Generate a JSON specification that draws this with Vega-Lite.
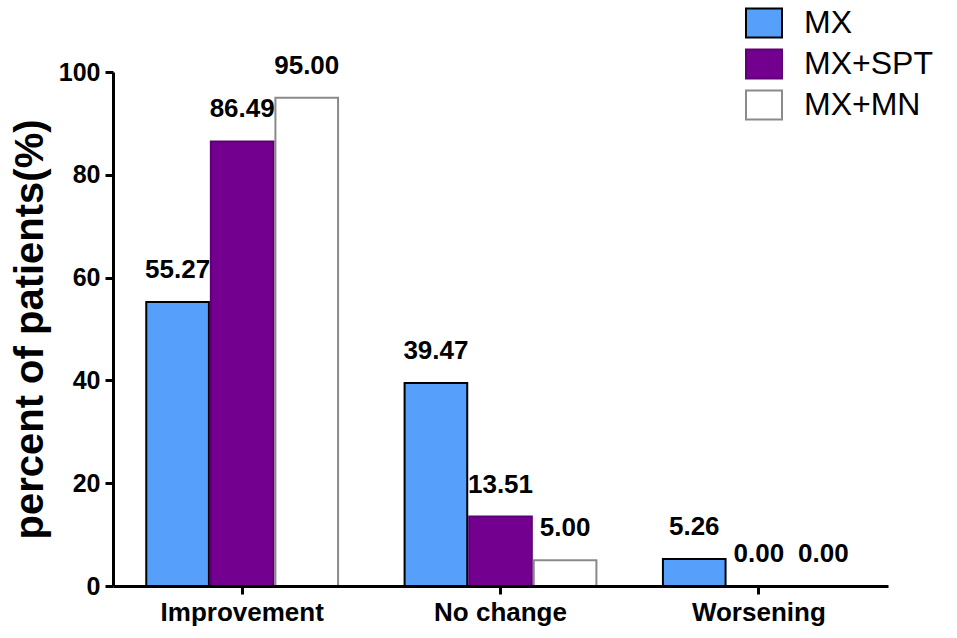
{
  "$schema": "https://vega.github.io/schema/vega-lite/v6.json",
  "width": 775,
  "height": 514,
  "autosize": {"type": "none"},
  "padding": {"left": 113, "top": 72, "right": 69, "bottom": 52},
  "background": "white",
  "data": {
    "values": [
      {"outcome": "Improvement", "group": "MX", "value": 55.27},
      {"outcome": "Improvement", "group": "MX+SPT", "value": 86.49},
      {"outcome": "Improvement", "group": "MX+MN", "value": 95.0},
      {"outcome": "No change", "group": "MX", "value": 39.47},
      {"outcome": "No change", "group": "MX+SPT", "value": 13.51},
      {"outcome": "No change", "group": "MX+MN", "value": 5.0},
      {"outcome": "Worsening", "group": "MX", "value": 5.26},
      {"outcome": "Worsening", "group": "MX+SPT", "value": 0.0},
      {"outcome": "Worsening", "group": "MX+MN", "value": 0.0}
    ]
  },
  "encoding": {
    "x": {
      "field": "outcome",
      "type": "nominal",
      "sort": ["Improvement", "No change", "Worsening"],
      "title": null,
      "scale": {"paddingInner": 0, "paddingOuter": 0},
      "axis": {
        "zindex": 1,
        "labelAngle": 0,
        "labelFontSize": 26,
        "labelFontWeight": "bold",
        "labelColor": "black",
        "labelPadding": 5,
        "tickSize": 8,
        "tickWidth": 3,
        "tickColor": "black",
        "domainWidth": 3,
        "domainColor": "black"
      }
    },
    "xOffset": {
      "field": "group",
      "type": "nominal",
      "sort": ["MX", "MX+SPT", "MX+MN"],
      "scale": {"paddingInner": 0.03, "paddingOuter": 0.515}
    },
    "y": {
      "field": "value",
      "type": "quantitative",
      "title": "percent of patients(%)",
      "scale": {"domain": [0, 100], "nice": false},
      "axis": {
        "zindex": 1,
        "values": [0, 20, 40, 60, 80, 100],
        "grid": false,
        "labelFontSize": 25,
        "labelFontWeight": "bold",
        "labelColor": "black",
        "labelPadding": 5,
        "tickSize": 8,
        "tickWidth": 3,
        "tickColor": "black",
        "domainWidth": 3,
        "domainColor": "black",
        "titleFontSize": 40,
        "titleFontWeight": "bold",
        "titleColor": "black",
        "titlePadding": 8
      }
    }
  },
  "layer": [
    {
      "mark": {"type": "bar", "strokeWidth": 2},
      "encoding": {
        "fill": {
          "field": "group",
          "type": "nominal",
          "sort": ["MX", "MX+SPT", "MX+MN"],
          "title": null,
          "scale": {
            "domain": ["MX", "MX+SPT", "MX+MN"],
            "range": ["#56A0FC", "#74008F", "#FFFFFF"]
          },
          "legend": {
            "orient": "none",
            "legendX": 632,
            "legendY": -68,
            "padding": 0,
            "symbolType": "M-1,-0.8H1V0.8H-1Z",
            "symbolSize": 1296,
            "symbolStrokeWidth": 2,
            "symbolOpacity": 1,
            "labelFontSize": 32,
            "labelColor": "black",
            "labelOffset": 21,
            "rowPadding": 3
          }
        },
        "stroke": {
          "field": "group",
          "type": "nominal",
          "sort": ["MX", "MX+SPT", "MX+MN"],
          "title": null,
          "scale": {
            "domain": ["MX", "MX+SPT", "MX+MN"],
            "range": ["#000000", "#5E0075", "#8A8A8A"]
          }
        }
      }
    },
    {
      "mark": {
        "type": "text",
        "fontSize": 26,
        "fontWeight": "bold",
        "color": "black",
        "baseline": "alphabetic",
        "dy": -24
      },
      "encoding": {
        "text": {"field": "value", "type": "quantitative", "format": ".2f"}
      }
    }
  ],
  "config": {
    "font": "Liberation Sans",
    "view": {"stroke": null}
  }
}
